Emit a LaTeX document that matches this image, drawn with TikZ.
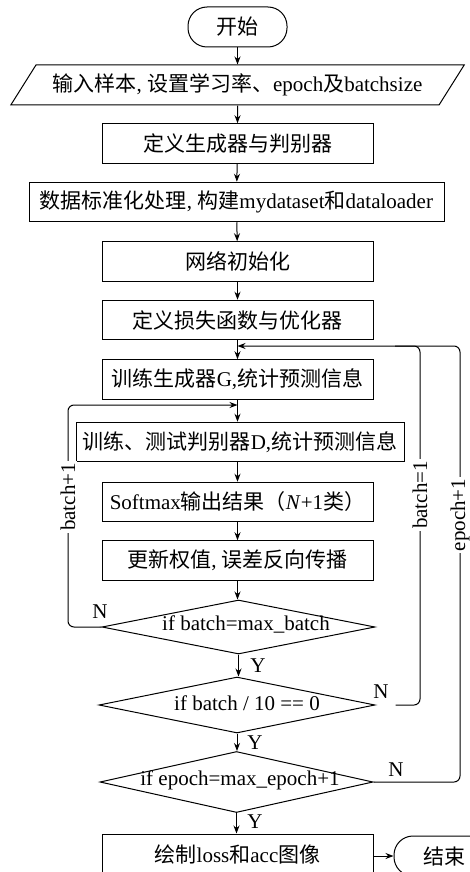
\documentclass[tikz,border=0pt]{standalone}
\usepackage{fontspec}
\setmainfont{Liberation Serif}
\newfontfamily\cjk{Noto Sans CJK SC}
\newcommand\zh[1]{{\cjk #1}}
\usetikzlibrary{arrows.meta,shapes.geometric,calc}
\begin{document}
\begin{tikzpicture}[x=1pt,y=-1pt,
  font=\fontsize{21}{24}\selectfont,
  line width=1pt,
  arr/.style={-{Stealth[length=8pt,width=6pt]}},
  box/.style={draw, rectangle, minimum width=271pt, minimum height=39.5pt, inner sep=0pt},
  term/.style={draw, rectangle, rounded corners=19pt, minimum height=40pt, minimum width=99pt, inner sep=0pt},
  dec/.style={draw, diamond, inner sep=0pt},
  lab/.style={fill=white, inner sep=2pt, rotate=90},
  yn/.style={inner sep=0pt}
]
\useasboundingbox (0,0) rectangle (470,872);
\fill[white] (0,0) rectangle (470,872);

\node[term] (start) at (237.5,27) {\zh{开始}};
\node[draw, trapezium, trapezium left angle=44, trapezium right angle=136,
      trapezium stretches=true, minimum width=455pt, minimum height=40pt, inner sep=0pt]
      (in) at (237.5,85) {\zh{输入样本}, \zh{设置学习率、}epoch\zh{及}batchsize};
\node[box] (def) at (237.5,143.5) {\zh{定义生成器与判别器}};
\node[box, minimum width=415pt] (data) at (236.5,202) {\zh{数据标准化处理}, \zh{构建}mydataset\zh{和}dataloader};
\node[box] (init) at (237.5,261.5) {\zh{网络初始化}};
\node[box] (loss) at (237.5,320) {\zh{定义损失函数与优化器}};
\node[box] (trainG) at (237.5,379.5) {\zh{训练生成器}G,\zh{统计预测信息}};
\node[box, minimum width=328pt] (trainD) at (240,442) {\zh{训练、测试判别器}D,\zh{统计预测信息}};
\node[box] (soft) at (237.5,502) {Softmax\zh{输出结果（}\textit{N}+1\zh{类）}};
\node[box] (upd) at (237.5,560.5) {\zh{更新权值}, \zh{误差反向传播}};

\node[dec, minimum width=273pt, minimum height=54pt] (d1) at (238.5,627) {};
\node (d1t) at (246,624) {if batch=max\_batch};
\node[dec, minimum width=276pt, minimum height=56pt] (d2) at (237,705) {};
\node (d2t) at (247,703) {if batch / 10 == 0};
\node[dec, minimum width=273pt, minimum height=61pt] (d3) at (236.5,782) {};
\node (d3t) at (240,780) {if epoch=max\_epoch+1};

\node[box, minimum height=40pt] (fin) at (237.5,854) {\zh{绘制}loss\zh{和}acc\zh{图像}};
\node[term, minimum width=100pt] (end) at (444,856) {\zh{结束}};

% main flow
\draw[arr] (start) -- (in);
\draw[arr] (in) -- (def);
\draw[arr] (def) -- (data);
\draw[arr] (data) -- (init);
\draw[arr] (init) -- (loss);
\draw[arr] (loss) -- (trainG);
\draw[arr] (trainG.south) -- (trainG.south |- trainD.north);
\draw[arr] (trainD.south -| soft.north) -- (soft);
\draw[arr] (soft) -- (upd);
\draw[arr] (upd.south) -- (upd.south |- d1.north);
\draw[arr] (d1.south) -- (d1.south |- d2.north);
\draw[arr] (d2.south) -- (d2.south |- d3.north);
\draw[arr] (d3.south) -- (d3.south |- fin.north);
\draw[arr] (fin.east |- end.west) -- (end.west);

% loops
\coordinate (jG) at (237.5,346);
\coordinate (jD) at (237.5,405);
\coordinate (Lx) at (68,405);
\coordinate (Bx) at (420,346);
\coordinate (Ex) at (460,346);
\coordinate (Bl) at (395,346);
\coordinate (d2o) at ($(d2.east)+(20,0)$);

\draw[arr, rounded corners=6pt] (d1.west) -- (d1.west -| Lx) -- (Lx) -- (jD);
\draw[rounded corners=6pt] (d2o) -- (d2o -| Bx) -- (Bx) -- (Bl);
\draw[arr, rounded corners=6pt] (d3.east) -- (d3.east -| Ex) -- (Ex) -- (jG);

\node[lab] (lb1) at (68,497) {batch+1};
\node[lab] (lb2) at (420,495) {batch=1};
\node[lab] (lb3) at (460,515) {epoch+1};

\node[yn] (n1) at (100,612) {N};
\node[yn] (n2) at (381,692) {N};
\node[yn] (n3) at (396,770) {N};
\node[yn] (y1) at (258,666) {Y};
\node[yn] (y2) at (255,743) {Y};
\node[yn] (y3) at (255,822) {Y};
\end{tikzpicture}
\end{document}
